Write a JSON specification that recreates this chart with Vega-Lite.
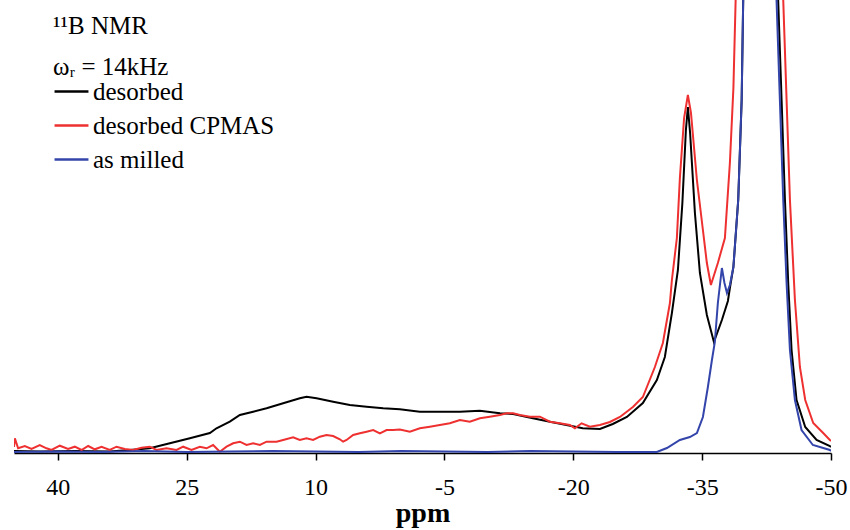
{
  "$schema": "https://vega.github.io/schema/vega-lite/v6.json",
  "width": 817,
  "height": 453,
  "autosize": {"type": "none"},
  "padding": {"left": 14, "top": 0, "right": 19, "bottom": 77},
  "background": "white",
  "config": {"view": {"stroke": null}, "font": "Liberation Serif"},
  "data": {"values": [
      {"s": "desorbed", "ppm": 45.1, "v": 2}, {"s": "desorbed", "ppm": 42, "v": 1.5}, {"s": "desorbed", "ppm": 38, "v": 2}, {"s": "desorbed", "ppm": 34, "v": 1.5},
      {"s": "desorbed", "ppm": 31.62, "v": 3}, {"s": "desorbed", "ppm": 29.29, "v": 4.7}, {"s": "desorbed", "ppm": 26.96, "v": 9.7}, {"s": "desorbed", "ppm": 24.63, "v": 14.7},
      {"s": "desorbed", "ppm": 22.3, "v": 20}, {"s": "desorbed", "ppm": 21.53, "v": 24.7}, {"s": "desorbed", "ppm": 19.98, "v": 31.3}, {"s": "desorbed", "ppm": 18.81, "v": 38},
      {"s": "desorbed", "ppm": 17.26, "v": 41.3}, {"s": "desorbed", "ppm": 15.7, "v": 44.7}, {"s": "desorbed", "ppm": 13.77, "v": 49.7}, {"s": "desorbed", "ppm": 11.83, "v": 54.7},
      {"s": "desorbed", "ppm": 11.05, "v": 56.3}, {"s": "desorbed", "ppm": 9.88, "v": 54.7}, {"s": "desorbed", "ppm": 7.95, "v": 51.3}, {"s": "desorbed", "ppm": 6.01, "v": 48},
      {"s": "desorbed", "ppm": 4.06, "v": 46.3}, {"s": "desorbed", "ppm": 2.13, "v": 44.7}, {"s": "desorbed", "ppm": 0.19, "v": 43.7}, {"s": "desorbed", "ppm": -2.14, "v": 41.3},
      {"s": "desorbed", "ppm": -4.47, "v": 41.3}, {"s": "desorbed", "ppm": -6.8, "v": 41.3}, {"s": "desorbed", "ppm": -9.13, "v": 42.3}, {"s": "desorbed", "ppm": -11.46, "v": 39.7},
      {"s": "desorbed", "ppm": -13.0, "v": 39}, {"s": "desorbed", "ppm": -15.3, "v": 34.7}, {"s": "desorbed", "ppm": -17.28, "v": 31.3}, {"s": "desorbed", "ppm": -19.2, "v": 28},
      {"s": "desorbed", "ppm": -21.1, "v": 24.7}, {"s": "desorbed", "ppm": -23.1, "v": 24}, {"s": "desorbed", "ppm": -24.6, "v": 29}, {"s": "desorbed", "ppm": -26.24, "v": 36},
      {"s": "desorbed", "ppm": -28.1, "v": 50}, {"s": "desorbed", "ppm": -29.73, "v": 73}, {"s": "desorbed", "ppm": -30.66, "v": 96}, {"s": "desorbed", "ppm": -31.48, "v": 140},
      {"s": "desorbed", "ppm": -32.18, "v": 183}, {"s": "desorbed", "ppm": -32.7, "v": 250}, {"s": "desorbed", "ppm": -33.11, "v": 323}, {"s": "desorbed", "ppm": -33.34, "v": 346},
      {"s": "desorbed", "ppm": -33.6, "v": 320}, {"s": "desorbed", "ppm": -34.16, "v": 240}, {"s": "desorbed", "ppm": -34.74, "v": 180}, {"s": "desorbed", "ppm": -35.55, "v": 138},
      {"s": "desorbed", "ppm": -36.37, "v": 111}, {"s": "desorbed", "ppm": -37.3, "v": 133}, {"s": "desorbed", "ppm": -38.0, "v": 152}, {"s": "desorbed", "ppm": -38.23, "v": 165},
      {"s": "desorbed", "ppm": -38.64, "v": 186}, {"s": "desorbed", "ppm": -39.2, "v": 253}, {"s": "desorbed", "ppm": -39.6, "v": 353}, {"s": "desorbed", "ppm": -39.78, "v": 453},
      {"s": "desorbed", "ppm": -41.7, "v": 1100}, {"s": "desorbed", "ppm": -43.85, "v": 453}, {"s": "desorbed", "ppm": -44.25, "v": 353}, {"s": "desorbed", "ppm": -44.64, "v": 253},
      {"s": "desorbed", "ppm": -45.02, "v": 170}, {"s": "desorbed", "ppm": -45.41, "v": 103}, {"s": "desorbed", "ppm": -45.99, "v": 53}, {"s": "desorbed", "ppm": -47.0, "v": 26},
      {"s": "desorbed", "ppm": -48.32, "v": 13}, {"s": "desorbed", "ppm": -49.87, "v": 7}, {"s": "desorbed", "ppm": -50, "v": 6},

      {"s": "desorbed CPMAS", "ppm": 45.1, "v": 6}, {"s": "desorbed CPMAS", "ppm": 45.0, "v": 14.7}, {"s": "desorbed CPMAS", "ppm": 44.62, "v": 4.7}, {"s": "desorbed CPMAS", "ppm": 43.84, "v": 7},
      {"s": "desorbed CPMAS", "ppm": 43.06, "v": 4}, {"s": "desorbed CPMAS", "ppm": 42.1, "v": 8}, {"s": "desorbed CPMAS", "ppm": 41.32, "v": 4.7}, {"s": "desorbed CPMAS", "ppm": 40.73, "v": 3},
      {"s": "desorbed CPMAS", "ppm": 39.77, "v": 7.3}, {"s": "desorbed CPMAS", "ppm": 38.8, "v": 4}, {"s": "desorbed CPMAS", "ppm": 38.02, "v": 6.3}, {"s": "desorbed CPMAS", "ppm": 37.24, "v": 3},
      {"s": "desorbed CPMAS", "ppm": 36.47, "v": 7}, {"s": "desorbed CPMAS", "ppm": 35.69, "v": 3.7}, {"s": "desorbed CPMAS", "ppm": 34.91, "v": 6.3}, {"s": "desorbed CPMAS", "ppm": 33.95, "v": 3},
      {"s": "desorbed CPMAS", "ppm": 33.17, "v": 6.3}, {"s": "desorbed CPMAS", "ppm": 32.2, "v": 4}, {"s": "desorbed CPMAS", "ppm": 31.23, "v": 3}, {"s": "desorbed CPMAS", "ppm": 30.26, "v": 5.3},
      {"s": "desorbed CPMAS", "ppm": 29.29, "v": 6.3}, {"s": "desorbed CPMAS", "ppm": 28.51, "v": 3}, {"s": "desorbed CPMAS", "ppm": 27.35, "v": 4.7}, {"s": "desorbed CPMAS", "ppm": 26.18, "v": 3},
      {"s": "desorbed CPMAS", "ppm": 25.41, "v": 6.3}, {"s": "desorbed CPMAS", "ppm": 24.44, "v": 3}, {"s": "desorbed CPMAS", "ppm": 23.47, "v": 6.3}, {"s": "desorbed CPMAS", "ppm": 22.69, "v": 4.7},
      {"s": "desorbed CPMAS", "ppm": 21.92, "v": 8}, {"s": "desorbed CPMAS", "ppm": 21.14, "v": 1.3}, {"s": "desorbed CPMAS", "ppm": 20.36, "v": 6.3}, {"s": "desorbed CPMAS", "ppm": 19.59, "v": 9.7},
      {"s": "desorbed CPMAS", "ppm": 18.81, "v": 11.3}, {"s": "desorbed CPMAS", "ppm": 18.03, "v": 8}, {"s": "desorbed CPMAS", "ppm": 17.26, "v": 9.7}, {"s": "desorbed CPMAS", "ppm": 16.48, "v": 8},
      {"s": "desorbed CPMAS", "ppm": 15.7, "v": 11.3}, {"s": "desorbed CPMAS", "ppm": 14.54, "v": 11.3}, {"s": "desorbed CPMAS", "ppm": 13.77, "v": 13}, {"s": "desorbed CPMAS", "ppm": 12.61, "v": 15.7},
      {"s": "desorbed CPMAS", "ppm": 11.83, "v": 13}, {"s": "desorbed CPMAS", "ppm": 11.05, "v": 14.7}, {"s": "desorbed CPMAS", "ppm": 10.28, "v": 13}, {"s": "desorbed CPMAS", "ppm": 9.5, "v": 16.3},
      {"s": "desorbed CPMAS", "ppm": 8.72, "v": 18}, {"s": "desorbed CPMAS", "ppm": 7.95, "v": 17}, {"s": "desorbed CPMAS", "ppm": 7.17, "v": 13.7}, {"s": "desorbed CPMAS", "ppm": 6.79, "v": 11.3},
      {"s": "desorbed CPMAS", "ppm": 6.39, "v": 13}, {"s": "desorbed CPMAS", "ppm": 5.62, "v": 18}, {"s": "desorbed CPMAS", "ppm": 4.84, "v": 19.7}, {"s": "desorbed CPMAS", "ppm": 4.06, "v": 21.3},
      {"s": "desorbed CPMAS", "ppm": 3.29, "v": 23}, {"s": "desorbed CPMAS", "ppm": 2.51, "v": 19.7}, {"s": "desorbed CPMAS", "ppm": 1.73, "v": 23}, {"s": "desorbed CPMAS", "ppm": 0.97, "v": 23},
      {"s": "desorbed CPMAS", "ppm": 0.19, "v": 23.5}, {"s": "desorbed CPMAS", "ppm": -0.98, "v": 21.3}, {"s": "desorbed CPMAS", "ppm": -2.14, "v": 24.7}, {"s": "desorbed CPMAS", "ppm": -3.31, "v": 26.3},
      {"s": "desorbed CPMAS", "ppm": -4.47, "v": 28}, {"s": "desorbed CPMAS", "ppm": -5.63, "v": 29.7}, {"s": "desorbed CPMAS", "ppm": -6.8, "v": 33}, {"s": "desorbed CPMAS", "ppm": -7.96, "v": 31.3},
      {"s": "desorbed CPMAS", "ppm": -9.13, "v": 34.7}, {"s": "desorbed CPMAS", "ppm": -10.29, "v": 36.3}, {"s": "desorbed CPMAS", "ppm": -11.46, "v": 38}, {"s": "desorbed CPMAS", "ppm": -12.24, "v": 39.7},
      {"s": "desorbed CPMAS", "ppm": -13.0, "v": 39.7}, {"s": "desorbed CPMAS", "ppm": -13.78, "v": 38}, {"s": "desorbed CPMAS", "ppm": -14.95, "v": 36.3}, {"s": "desorbed CPMAS", "ppm": -16.11, "v": 36.3},
      {"s": "desorbed CPMAS", "ppm": -17.28, "v": 31.3}, {"s": "desorbed CPMAS", "ppm": -18.44, "v": 29.7}, {"s": "desorbed CPMAS", "ppm": -19.6, "v": 28}, {"s": "desorbed CPMAS", "ppm": -20.19, "v": 24.7},
      {"s": "desorbed CPMAS", "ppm": -20.97, "v": 29.7}, {"s": "desorbed CPMAS", "ppm": -21.93, "v": 26.3}, {"s": "desorbed CPMAS", "ppm": -23.1, "v": 28}, {"s": "desorbed CPMAS", "ppm": -24.26, "v": 31},
      {"s": "desorbed CPMAS", "ppm": -25.43, "v": 36}, {"s": "desorbed CPMAS", "ppm": -26.94, "v": 46}, {"s": "desorbed CPMAS", "ppm": -28.1, "v": 56}, {"s": "desorbed CPMAS", "ppm": -29.5, "v": 86},
      {"s": "desorbed CPMAS", "ppm": -30.43, "v": 110}, {"s": "desorbed CPMAS", "ppm": -31.25, "v": 150}, {"s": "desorbed CPMAS", "ppm": -31.48, "v": 173}, {"s": "desorbed CPMAS", "ppm": -32.06, "v": 215},
      {"s": "desorbed CPMAS", "ppm": -32.41, "v": 275}, {"s": "desorbed CPMAS", "ppm": -32.9, "v": 335}, {"s": "desorbed CPMAS", "ppm": -33.34, "v": 358}, {"s": "desorbed CPMAS", "ppm": -33.7, "v": 340},
      {"s": "desorbed CPMAS", "ppm": -34.39, "v": 273}, {"s": "desorbed CPMAS", "ppm": -35.09, "v": 223}, {"s": "desorbed CPMAS", "ppm": -35.55, "v": 190}, {"s": "desorbed CPMAS", "ppm": -36.02, "v": 168},
      {"s": "desorbed CPMAS", "ppm": -36.83, "v": 190}, {"s": "desorbed CPMAS", "ppm": -37.65, "v": 215}, {"s": "desorbed CPMAS", "ppm": -38.23, "v": 290}, {"s": "desorbed CPMAS", "ppm": -38.64, "v": 365},
      {"s": "desorbed CPMAS", "ppm": -38.9, "v": 453}, {"s": "desorbed CPMAS", "ppm": -41.7, "v": 1100}, {"s": "desorbed CPMAS", "ppm": -44.44, "v": 453}, {"s": "desorbed CPMAS", "ppm": -44.83, "v": 353},
      {"s": "desorbed CPMAS", "ppm": -45.22, "v": 253}, {"s": "desorbed CPMAS", "ppm": -45.8, "v": 153}, {"s": "desorbed CPMAS", "ppm": -46.38, "v": 86}, {"s": "desorbed CPMAS", "ppm": -47.0, "v": 53},
      {"s": "desorbed CPMAS", "ppm": -47.93, "v": 30}, {"s": "desorbed CPMAS", "ppm": -49.09, "v": 20}, {"s": "desorbed CPMAS", "ppm": -49.87, "v": 13}, {"s": "desorbed CPMAS", "ppm": -50, "v": 12},

      {"s": "as milled", "ppm": 45.1, "v": 1}, {"s": "as milled", "ppm": 40, "v": 1.5}, {"s": "as milled", "ppm": 35, "v": 1}, {"s": "as milled", "ppm": 30, "v": 2}, {"s": "as milled", "ppm": 25, "v": 1},
      {"s": "as milled", "ppm": 20, "v": 1.5}, {"s": "as milled", "ppm": 15, "v": 2}, {"s": "as milled", "ppm": 10, "v": 1.5}, {"s": "as milled", "ppm": 5, "v": 1}, {"s": "as milled", "ppm": 0, "v": 2},
      {"s": "as milled", "ppm": -5, "v": 1.5}, {"s": "as milled", "ppm": -10, "v": 1}, {"s": "as milled", "ppm": -15, "v": 2}, {"s": "as milled", "ppm": -20, "v": 1.5}, {"s": "as milled", "ppm": -25, "v": 1},
      {"s": "as milled", "ppm": -29.73, "v": 1}, {"s": "as milled", "ppm": -30.9, "v": 5}, {"s": "as milled", "ppm": -32.41, "v": 13}, {"s": "as milled", "ppm": -33.57, "v": 16}, {"s": "as milled", "ppm": -34.39, "v": 20},
      {"s": "as milled", "ppm": -35.09, "v": 36}, {"s": "as milled", "ppm": -35.67, "v": 66}, {"s": "as milled", "ppm": -36.14, "v": 93}, {"s": "as milled", "ppm": -36.48, "v": 111}, {"s": "as milled", "ppm": -36.83, "v": 150},
      {"s": "as milled", "ppm": -37.3, "v": 185}, {"s": "as milled", "ppm": -37.6, "v": 170}, {"s": "as milled", "ppm": -37.89, "v": 160}, {"s": "as milled", "ppm": -38.23, "v": 168}, {"s": "as milled", "ppm": -38.64, "v": 186},
      {"s": "as milled", "ppm": -39.2, "v": 253}, {"s": "as milled", "ppm": -39.6, "v": 353}, {"s": "as milled", "ppm": -39.78, "v": 453}, {"s": "as milled", "ppm": -41.7, "v": 1100}, {"s": "as milled", "ppm": -43.66, "v": 453},
      {"s": "as milled", "ppm": -44.05, "v": 353}, {"s": "as milled", "ppm": -44.44, "v": 253}, {"s": "as milled", "ppm": -44.83, "v": 170}, {"s": "as milled", "ppm": -45.22, "v": 103}, {"s": "as milled", "ppm": -45.8, "v": 53},
      {"s": "as milled", "ppm": -46.57, "v": 23}, {"s": "as milled", "ppm": -47.89, "v": 8}, {"s": "as milled", "ppm": -49.87, "v": 3}, {"s": "as milled", "ppm": -50, "v": 2}
  ]},
  "mark": {"type": "line", "strokeWidth": 2, "clip": true},
  "encoding": {
    "x": {
      "field": "ppm", "type": "quantitative",
      "scale": {"domain": [-50, 45.1], "reverse": true, "nice": false, "zero": false},
      "axis": {
        "values": [40, 25, 10, -5, -20, -35, -50],
        "labelExpr": "toString(datum.value)",
        "title": "ppm", "titleFont": "Liberation Serif", "titleFontSize": 28, "titleFontWeight": "bold", "titleColor": "black", "titlePadding": 0,
        "labelFont": "Liberation Serif", "labelFontSize": 24, "labelColor": "black", "labelPadding": 15,
        "tickSize": 7, "tickColor": "black", "tickWidth": 1.5, "domainColor": "black", "domainWidth": 1.5, "grid": false, "labelFlush": false
      }
    },
    "y": {"field": "v", "type": "quantitative", "scale": {"domain": [0, 453], "nice": false}, "axis": null},
    "color": {
      "field": "s", "type": "nominal",
      "scale": {"domain": ["desorbed", "desorbed CPMAS", "as milled"], "range": ["#000000", "#ee3030", "#3344aa"]},
      "legend": {
        "orient": "none", "legendX": 39, "legendY": 14, "padding": 0,
        "title": ["¹¹B NMR", "ωᵣ = 14kHz"], "titleFont": "Liberation Serif", "titleFontSize": 25, "titleFontWeight": "normal",
        "titleLineHeight": 41, "titleColor": "black", "titlePadding": -7,
        "labelFont": "Liberation Serif", "labelFontSize": 25, "labelColor": "black", "labelOffset": 3, "labelLimit": 0,
        "symbolType": "stroke", "symbolSize": 1150, "symbolStrokeWidth": 2.5, "rowPadding": 2
      }
    },
    "order": {"field": "s", "sort": "descending"}
  }
}
